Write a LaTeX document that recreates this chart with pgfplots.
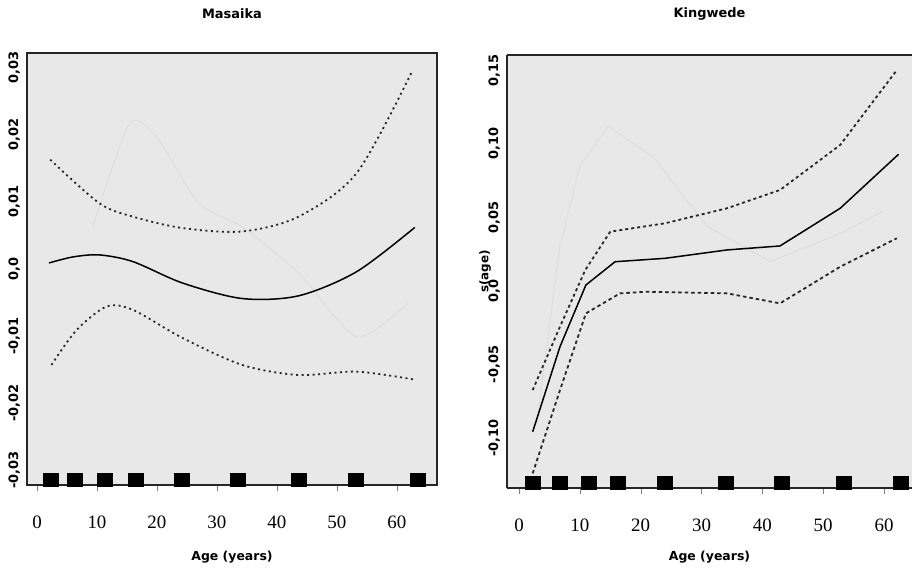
\documentclass[border=0pt]{standalone}
\usepackage{fontspec}
\setmainfont{Liberation Serif}
\newfontfamily\sansb{DejaVu Sans}
\usepackage{pgfplots}
\pgfplotsset{compat=1.18}
\begin{document}
\begin{tikzpicture}
\useasboundingbox (0bp,0bp) rectangle (914bp,-569bp);
\pgfplotsset{
  panel/.style={
    scale only axis,
    scaled y ticks=false,
    axis background/.style={fill=black!9},
    axis line style={line width=1.2bp, black!85},
    tick align=outside,
    xtick pos=bottom, ytick pos=left,
    xtick={0,10,...,60},
    xticklabel style={font=\fontsize{19}{19}\selectfont, yshift=-21bp},
    major tick length=6bp,
    ytick style={draw=none},
    yticklabel style={rotate=90, anchor=south, font=\sansb\bfseries\fontsize{13}{13}\selectfont, inner sep=0.8bp},
    /pgf/number format/assume math mode=true,
    title style={font=\sansb\bfseries\fontsize{13}{13}\selectfont, anchor=center, yshift=-6pt},
    xlabel style={font=\sansb\bfseries\fontsize{12.5}{12.5}\selectfont, anchor=center},
    ylabel style={font=\sansb\bfseries\fontsize{12}{12}\selectfont, anchor=center},
    clip=true,
  },
  est/.style={black, line width=1.5bp},
  band/.style={black!85, line width=1.8bp, dash pattern=on 2bp off 3.5bp},
  ghost/.style={black!13, line width=1bp},
  rug/.style={only marks, mark=square*, mark size=7.5bp, mark options={yscale=0.85, fill=black, draw=black}},
}
% ---------------- Masaika ----------------
\begin{axis}[panel,
  at={(27bp,-485bp)}, anchor=south west,
  width=410bp, height=432bp,
  xmin=-1.67, xmax=66.7, ymin=-0.0322, ymax=0.0322,
  ytick={-0.03,-0.02,-0.01,0,0.01,0.02,0.03},
  yticklabels={{-0,03},{-0,02},{-0,01},{0,0},{0,01},{0,02},{0,03}},
  title={Masaika}, title style={at={(axis description cs:0.5,1.0903)}},
  xlabel={Age (years)}, xlabel style={at={(axis description cs:0.5,-0.1667)}},
]
\addplot[ghost, smooth, tension=0.4] coordinates {
 (9.3,0.0063) (15.4,0.0217) (19.9,0.0197) (27.0,0.0098) (34.2,0.0063) (43.6,-0.0006) (53.3,-0.0101) (61.9,-0.0051)};
\addplot[est, smooth, tension=0.5] coordinates {
 (2.0,0.0009) (6.0,0.0018) (10.4,0.0021) (16.0,0.0011) (24.3,-0.0021) (34.2,-0.0044) (43.6,-0.0040) (53.3,-0.0004) (63.0,0.0062)};
\addplot[band, smooth, tension=0.5] coordinates {
 (2.2,0.0163) (10.4,0.0098) (16.0,0.0078) (24.3,0.0061) (34.2,0.0056) (43.6,0.0078) (53.3,0.0143) (62.4,0.0292)};
\addplot[band, smooth, tension=0.5] coordinates {
 (2.4,-0.0143) (6.6,-0.0091) (11.6,-0.0056) (16.0,-0.0061) (24.3,-0.0103) (34.2,-0.0143) (43.6,-0.0158) (53.3,-0.0153) (63.0,-0.0165)};
\addplot[rug] coordinates {
 (2.2,-0.0314) (6.3,-0.0314) (11.3,-0.0314) (16.4,-0.0314) (24.1,-0.0314) (33.5,-0.0314) (43.6,-0.0314) (53.1,-0.0314) (63.5,-0.0314)};
\end{axis}
% ---------------- Kingwede ----------------
\begin{axis}[panel,
  at={(507bp,-488bp)}, anchor=south west,
  width=405bp, height=433bp,
  axis x line*=box, axis y line*=left,
  xmin=-1.97, xmax=64.6, ymin=-0.1338, ymax=0.1603,
  ytick={-0.10,-0.05,0,0.05,0.10,0.15},
  yticklabels={{-0,10},{-0,05},{0,0},{0,05},{0,10},{0,15}},
  title={Kingwede}, title style={at={(axis description cs:0.5,1.0947)}},
  xlabel={Age (years)}, xlabel style={at={(axis description cs:0.5,-0.1594)}},
  ylabel={s(age)}, ylabel style={at={(axis description cs:-0.054,0.5)}},
]
\addplot[ghost] coordinates {
 (2.9,-0.09) (6.7,0.03) (10.0,0.085) (14.7,0.112) (22.1,0.091) (30.9,0.044) (41.3,0.020) (52.8,0.039) (59.7,0.054)};
\addplot[est] coordinates {
 (2.25,-0.0956) (6.74,-0.0378) (11.0,0.0041) (15.8,0.0199) (24.0,0.0222) (34.2,0.0279) (42.9,0.0306) (52.8,0.0562) (62.4,0.0929)};
\addplot[band, dash pattern=on 3bp off 3bp] coordinates {
 (2.25,-0.0673) (6.74,-0.0242) (10.9,0.0143) (15.0,0.0403) (24.0,0.0460) (34.2,0.0562) (42.9,0.0686) (52.8,0.0992) (62.1,0.150)};
\addplot[band, dash pattern=on 3.5bp off 3bp] coordinates {
 (2.25,-0.1239) (6.74,-0.0673) (11.0,-0.0152) (16.6,-0.0016) (21.0,-0.0005) (34.2,-0.0016) (42.9,-0.0084) (52.8,0.0165) (62.1,0.0358)};
\addplot[rug] coordinates {
 (2.3,-0.1301) (6.7,-0.1301) (11.5,-0.1301) (16.3,-0.1301) (24.0,-0.1301) (33.9,-0.1301) (43.2,-0.1301) (53.3,-0.1301) (62.7,-0.1301)};
\end{axis}
\end{tikzpicture}
\end{document}
